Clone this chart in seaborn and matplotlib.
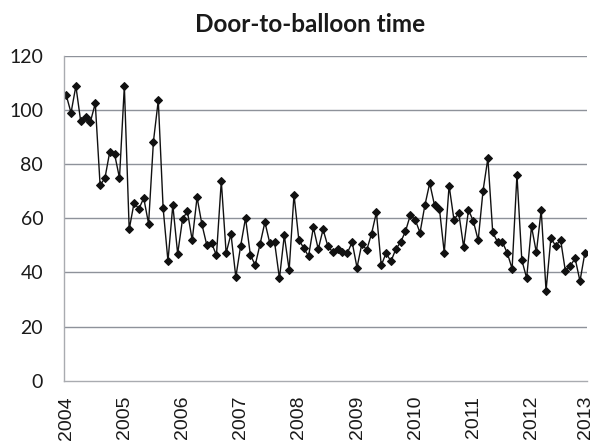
import numpy as np
import pandas as pd
import matplotlib
matplotlib.use("Agg")
import matplotlib.pyplot as plt
import seaborn as sns

# Monthly median door-to-balloon time (minutes), Jan 2004 - Dec 2012
door_to_balloon = [
    105.6, 99.0, 108.9, 95.8, 97.3, 95.7, 102.5, 72.2, 74.9, 84.7, 83.6, 74.9,
    108.9, 55.9, 65.7, 63.5, 67.5, 58.0, 88.4, 103.6, 63.8, 44.2, 64.9, 46.9,
    59.6, 62.7, 51.9, 67.8, 57.8, 50.2, 50.9, 46.3, 73.8, 47.2, 54.2, 38.3,
    49.9, 60.1, 46.5, 42.7, 50.5, 58.6, 50.9, 51.1, 37.8, 53.7, 40.9, 68.8,
    52.0, 49.1, 46.0, 56.7, 48.6, 55.9, 49.6, 47.6, 48.5, 47.6, 47.2, 51.2,
    41.8, 50.6, 48.3, 54.3, 62.2, 42.6, 47.2, 44.1, 48.6, 51.2, 55.2, 61.2,
    59.5, 54.7, 64.8, 73.0, 64.8, 63.6, 47.3, 72.1, 59.5, 61.9, 49.4, 63.1,
    59.0, 51.9, 70.2, 82.2, 54.8, 51.2, 51.2, 47.2, 41.4, 76.1, 44.6, 37.9,
    57.0, 47.4, 63.1, 33.3, 52.7, 49.8, 52.1, 40.4, 42.5, 45.2, 36.8, 47.1,
]
year_labels = ["2004", "2005", "2006", "2007", "2008", "2009",
               "2010", "2011", "2012", "2013"]
y_ticks = [0, 20, 40, 60, 80, 100, 120]

months = np.arange(len(door_to_balloon))
df = pd.DataFrame({"month": months, "minutes": door_to_balloon})

sns.set_style("white")
plt.rcParams["font.family"] = ["Lato", "DejaVu Sans"]

fig = plt.figure(figsize=(5.94, 4.42), dpi=100)
ax = fig.add_axes([64 / 594, 1 - 380.7 / 442, (587 - 64) / 594, (380.7 - 56) / 442])

sns.lineplot(data=df, x="month", y="minutes", ax=ax, color="#111111",
             linewidth=1.0, marker="D", markersize=4.5,
             markeredgecolor="#111111", markerfacecolor="#111111")

ax.set_xlim(-0.45, 107.45)
ax.set_ylim(0, 120)
ax.set_yticks(y_ticks)
ax.set_yticklabels([str(v) for v in y_ticks], fontsize=14, color="#1a1a1a")

tick_pos = [12 * i for i in range(9)] + [107.2]
ax.set_xticks(tick_pos)
ax.set_xticklabels(year_labels, rotation=90, fontsize=14, color="#1a1a1a",
                   family=["Liberation Sans", "DejaVu Sans"])
ax.tick_params(axis="x", length=0, pad=11)
ax.tick_params(axis="y", length=0, pad=15)

ax.set_xlabel("")
ax.set_ylabel("")

for v in y_ticks[1:]:
    ax.axhline(v, color="#8e929a", linewidth=1.0, zorder=0)

for side in ["top", "right"]:
    ax.spines[side].set_visible(False)
for side in ["left", "bottom"]:
    ax.spines[side].set_color("#a9abb0")
    ax.spines[side].set_linewidth(1.0)

fig.text(310.5 / 594, 1 - 25 / 442, "Door-to-balloon time", ha="center",
         va="center", fontsize=17.5, fontweight="bold", color="#1a1a1a")

fig.savefig("out.png", dpi=100)
